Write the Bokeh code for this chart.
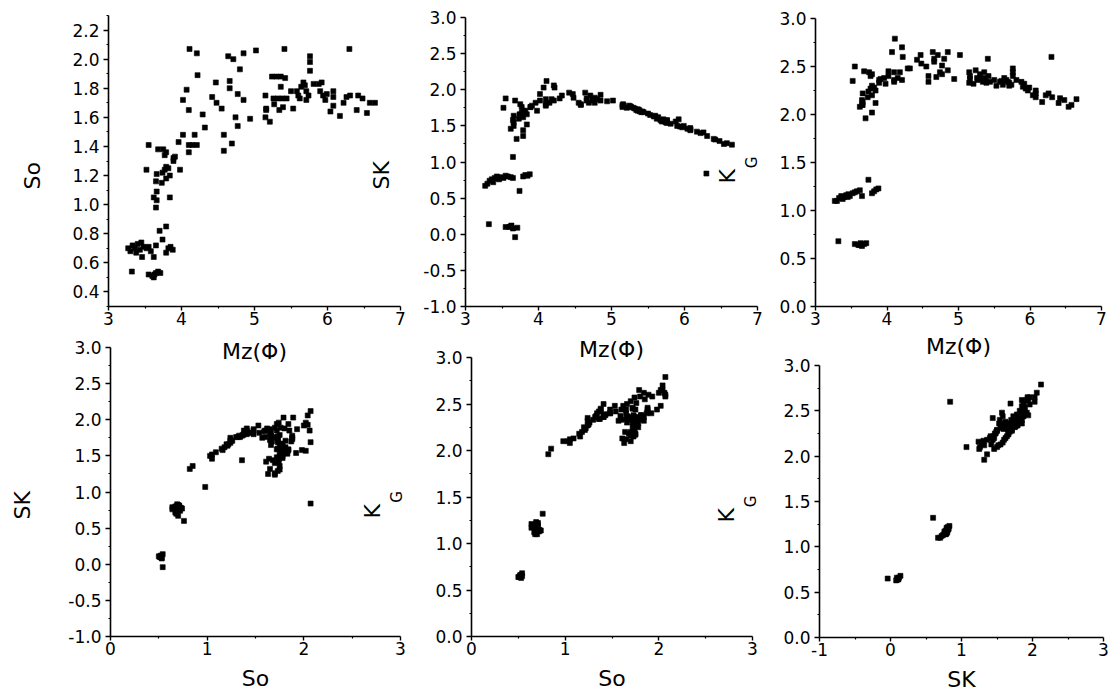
from bokeh.plotting import figure
from bokeh.layouts import row, column
from bokeh.models import FixedTicker, Range1d, PrintfTickFormatter, Title
from bokeh.embed import file_html
from bokeh.resources import INLINE

# ---------------- data (one entry per sample) ----------------
# Mz(Phi) mean grain size
mz = [
    3.32, 3.60, 3.63, 3.65, 3.68, 3.71, 3.62, 3.55,
    3.30, 3.33, 3.36, 3.40, 3.43, 3.46, 3.48, 3.52, 3.55, 3.58, 3.62, 3.38, 3.74, 3.79, 3.82, 3.85, 3.88, 3.27, 3.45, 3.65,
    3.70, 3.79, 3.65, 3.62, 3.66, 3.66, 3.84, 3.65, 3.73, 3.79, 3.66, 3.84, 3.74, 3.52, 3.77, 3.79, 3.82, 3.98, 3.89, 3.89,
    3.91, 3.77, 3.68, 3.75, 3.55, 3.96, 3.79,
    4.02, 4.02, 4.07, 4.10, 4.11, 4.21, 4.22, 4.10, 4.15, 4.21, 4.10, 4.18, 4.29, 4.32, 4.42, 4.47, 4.48, 4.55, 4.58, 4.58,
    4.64, 4.71, 4.66, 4.66, 4.69, 4.74, 4.77, 4.77, 4.80, 4.85, 4.85, 4.94, 5.02,
    5.15, 5.16, 5.16, 5.15, 5.21, 5.24, 5.30, 5.36, 5.42, 5.26, 5.32, 5.38, 5.44, 5.36, 5.27, 5.34, 5.39, 5.41, 5.53, 5.50,
    5.58, 5.62, 5.60, 5.64, 5.67, 5.69, 5.71, 5.74, 5.76, 5.76, 5.76, 5.71, 5.81, 5.88, 5.92, 5.90, 5.94, 5.97, 5.99, 6.04,
    6.08, 6.08, 6.08, 6.17, 6.22, 6.26, 6.31, 6.30, 6.40, 6.42, 6.54, 6.48, 6.58, 6.65,
]
# So sorting
so = [
    0.54, 0.51, 0.52, 0.53, 0.54, 0.53, 0.50, 0.52,
    0.68, 0.72, 0.70, 0.73, 0.69, 0.64, 0.71, 0.70, 0.71, 0.68, 0.64, 0.67, 0.76, 0.67, 0.70, 0.71, 0.69, 0.70, 0.74, 0.72,
    0.82, 0.85, 0.98, 1.05, 1.03, 1.09, 1.05, 1.16, 1.15, 1.18, 1.21, 1.20, 1.22, 1.24, 1.24, 1.26, 1.25, 1.24, 1.30, 1.32,
    1.33, 1.34, 1.38, 1.38, 1.41, 1.43, 1.36,
    1.48, 1.72, 1.79, 1.65, 2.07, 2.04, 1.89, 1.41, 1.41, 1.41, 1.36, 1.48, 1.62, 1.53, 1.74, 1.84, 1.70, 1.66, 1.48, 1.37,
    2.02, 2.00, 1.85, 1.80, 1.42, 1.60, 1.54, 1.76, 1.93, 1.72, 2.04, 1.59, 2.06,
    1.75, 1.66, 1.65, 1.60, 1.57, 1.88, 1.88, 1.88, 1.87, 1.73, 1.73, 1.73, 1.73, 1.81, 1.69, 1.65, 1.67, 2.07, 1.66, 1.78,
    1.78, 1.73, 1.75, 1.81, 1.84, 1.82, 1.78, 1.75, 2.02, 1.98, 1.92, 1.72, 1.83, 1.83, 1.84, 1.78, 1.75, 1.72, 1.76, 1.64,
    1.78, 1.74, 1.68, 1.61, 1.70, 1.74, 1.75, 2.07, 1.65, 1.75, 1.63, 1.73, 1.70, 1.70,
]
# SK skewness
sk = [
    0.14, 0.10, 0.12, 0.08, -0.04, 0.09, 0.11, 0.10,
    0.70, 0.74, 0.76, 0.78, 0.80, 0.76, 0.79, 0.78, 0.81, 0.80, 0.79, 0.72, 0.60, 0.80, 0.82, 0.81, 0.83, 0.67, 0.77, 0.78,
    1.32, 1.36, 1.07, 1.46, 1.50, 1.55, 1.52, 1.58, 1.60, 1.62, 1.64, 1.66, 1.66, 1.75, 1.68, 1.71, 1.71, 1.71, 1.76, 1.76,
    1.78, 1.76, 1.85, 1.80, 1.88, 1.82, 1.44,
    1.85, 1.94, 2.03, 1.87, 2.12, 2.06, 2.03, 1.80, 1.82, 1.85, 1.78, 1.87, 1.88, 1.92, 1.96, 1.94, 1.89, 1.82, 1.80, 1.79,
    1.96, 1.92, 1.85, 1.88, 1.82, 1.85, 1.82, 1.89, 1.87, 1.85, 1.93, 1.84, 1.85,
    1.79, 1.78, 1.80, 1.76, 1.75, 1.78, 1.75, 1.73, 1.70, 1.77, 1.74, 1.72, 1.69, 1.71, 1.76, 1.72, 1.70, 1.69, 1.65, 1.67,
    1.63, 1.60, 1.64, 1.62, 1.58, 1.56, 1.57, 1.55, 1.57, 1.58, 1.54, 1.59, 1.53, 1.56, 1.59, 1.50, 1.49, 1.48, 1.50, 1.46,
    1.47, 1.45, 1.44, 1.42, 1.40, 1.41, 1.36, 0.84, 1.32, 1.31, 1.25, 1.29, 1.26, 1.24,
]
# KG kurtosis
kg = [
    0.68, 0.64, 0.66, 0.63, 0.65, 0.66, 0.64, 0.65,
    1.10, 1.13, 1.15, 1.14, 1.16, 1.17, 1.15, 1.18, 1.19, 1.20, 1.21, 1.12, 1.32, 1.18, 1.20, 1.22, 1.23, 1.10, 1.14, 1.15,
    1.96, 2.02, 2.10, 2.08, 2.10, 2.13, 2.12, 2.15, 2.18, 2.20, 2.22, 2.25, 2.24, 2.35, 2.27, 2.30, 2.28, 2.32, 2.33, 2.36,
    2.37, 2.40, 2.45, 2.44, 2.50, 2.38, 2.42,
    2.40, 2.45, 2.65, 2.44, 2.79, 2.70, 2.60, 2.36, 2.38, 2.36, 2.34, 2.44, 2.48, 2.48, 2.57, 2.62, 2.53, 2.50, 2.40, 2.34,
    2.65, 2.62, 2.55, 2.58, 2.39, 2.44, 2.42, 2.51, 2.58, 2.46, 2.65, 2.37, 2.62,
    2.44, 2.37, 2.40, 2.33, 2.32, 2.46, 2.42, 2.44, 2.40, 2.38, 2.37, 2.35, 2.34, 2.38, 2.36, 2.34, 2.33, 2.58, 2.30, 2.36,
    2.34, 2.31, 2.35, 2.38, 2.36, 2.34, 2.33, 2.31, 2.48, 2.44, 2.40, 2.30, 2.36, 2.34, 2.32, 2.29, 2.27, 2.25, 2.28, 2.20,
    2.25, 2.22, 2.18, 2.13, 2.20, 2.22, 2.18, 2.60, 2.12, 2.17, 2.08, 2.15, 2.10, 2.16,
]

# ---------------- ticks ----------------
mz_ticks = [3, 4, 5, 6, 7]
mz_minor = [3.5, 4.5, 5.5, 6.5]
so_y_ticks = [0.4, 0.6, 0.8, 1.0, 1.2, 1.4, 1.6, 1.8, 2.0, 2.2]
so_y_minor = [0.3, 0.5, 0.7, 0.9, 1.1, 1.3, 1.5, 1.7, 1.9, 2.1, 2.3]
sk_y_ticks = [-1.0, -0.5, 0.0, 0.5, 1.0, 1.5, 2.0, 2.5, 3.0]
sk_y_minor = [-0.75, -0.25, 0.25, 0.75, 1.25, 1.75, 2.25, 2.75]
kg_y_ticks = [0.0, 0.5, 1.0, 1.5, 2.0, 2.5, 3.0]
kg_y_minor = [0.25, 0.75, 1.25, 1.75, 2.25, 2.75]
so_x_ticks = [0, 1, 2, 3]
so_x_minor = [0.5, 1.5, 2.5]
sk_x_ticks = [-1, 0, 1, 2, 3]
sk_x_minor = [-0.5, 0.5, 1.5, 2.5]

FONT = "DejaVu Sans"
TICK_SIZE = "17px"
TITLE_SIZE = "22px"
MZ = "Mz(\u03a6)"


def panel(xs, ys, xr, yr, xt, xm, yt, ym, width, height, borders, margin, xlabel, xlabel_standoff):
    l, r, t, b = borders
    p = figure(width=width, height=height, x_range=Range1d(*xr), y_range=Range1d(*yr),
               output_backend="svg", toolbar_location=None,
               min_border_left=l, min_border_right=r, min_border_top=t, min_border_bottom=b)
    p.frame_align = False
    p.margin = margin
    p.xgrid.visible = False
    p.ygrid.visible = False
    p.outline_line_color = None
    p.background_fill_color = None
    p.border_fill_color = None
    p.xaxis.ticker = FixedTicker(ticks=xt, minor_ticks=xm)
    p.yaxis.ticker = FixedTicker(ticks=yt, minor_ticks=ym)
    p.xaxis.formatter = PrintfTickFormatter(format="%d")
    p.yaxis.formatter = PrintfTickFormatter(format="%.1f")
    for ax in (p.xaxis[0], p.yaxis[0]):
        ax.axis_line_color = "black"
        ax.axis_line_width = 1.6
        ax.major_tick_line_color = "black"
        ax.major_tick_line_width = 1.4
        ax.minor_tick_line_color = "black"
        ax.minor_tick_line_width = 1.2
        ax.major_tick_in = 0
        ax.minor_tick_in = 0
        ax.minor_tick_out = 2
        ax.major_label_text_font = FONT
        ax.major_label_text_font_size = TICK_SIZE
        ax.major_label_text_color = "black"
        ax.axis_label_text_font = FONT
        ax.axis_label_text_font_style = "normal"
        ax.axis_label_text_color = "black"
    p.xaxis.major_tick_out = 4
    p.xaxis.major_label_standoff = 1
    p.yaxis.major_tick_out = 5
    p.yaxis.major_label_standoff = 4
    p.xaxis.axis_label = xlabel
    p.xaxis.axis_label_text_font_size = TITLE_SIZE
    p.xaxis.axis_label_standoff = xlabel_standoff
    p.scatter(xs, ys, marker="square", size=5, fill_color="black", line_color="black", line_width=0.6)
    return p


def ytitle(p, text, standoff, offset):
    p.add_layout(Title(text=text, align="left", offset=offset, vertical_align="bottom",
                       standoff=standoff, text_font=FONT, text_font_size=TITLE_SIZE,
                       text_font_style="normal", text_color="black"), "left")


def kg_title(p, g_standoff, k_offset):
    # subscript G as the axis label (next to the ticks), K as a title just outside it
    p.yaxis.axis_label = "G"
    p.yaxis.axis_label_text_font_size = "15px"
    p.yaxis.axis_label_standoff = g_standoff
    ytitle(p, "K", 2, k_offset)


# ---------------- top row ----------------
p1 = panel(mz, so, (3, 7), (0.3, 2.3), mz_ticks, mz_minor, so_y_ticks, so_y_minor,
           424, 372, (120, 12, 15, 66), (0, 0, 0, -12), MZ, 11)
ytitle(p1, "So", 50, 117)

p2 = panel(mz, sk, (3, 7), (-1, 3), mz_ticks, mz_minor, sk_y_ticks, sk_y_minor,
           427, 372, (125, 10, 17, 66), (0, 0, 0, -72), MZ, 9)
ytitle(p2, "SK", 53, 117)

p3 = panel(mz, kg, (3, 7), (0, 3), mz_ticks, mz_minor, kg_y_ticks, kg_y_minor,
           400, 372, (104, 10, 18, 66), (0, 0, 0, -56), MZ, 6)
kg_title(p3, 15, 123)

# ---------------- bottom row ----------------
p4 = panel(so, sk, (0, 3), (-1, 3), so_x_ticks, so_x_minor, sk_y_ticks, sk_y_minor,
           437, 364, (135, 12, 17, 58), (0, 0, 0, -25), "So", 8)
ytitle(p4, "SK", 61, 117)

p5 = panel(so, kg, (0, 3), (0, 3), so_x_ticks, so_x_minor, kg_y_ticks, kg_y_minor,
           408, 364, (110, 12, 27, 58), (0, 0, 0, -56), "So", 8)
kg_title(p5, 26, 118)

p6 = panel(sk, kg, (-1, 3), (0, 3), sk_x_ticks, sk_x_minor, kg_y_ticks, kg_y_minor,
           402, 364, (105, 9, 35, 57), (0, 0, 0, -54), "SK", 8)
kg_title(p6, 20, 115)

top = row(p1, p2, p3)
bottom = row(p4, p5, p6)
bottom.margin = (-42, 0, 0, 0)
layout = column(top, bottom)

open("out.html", "w").write(file_html(layout, INLINE))
